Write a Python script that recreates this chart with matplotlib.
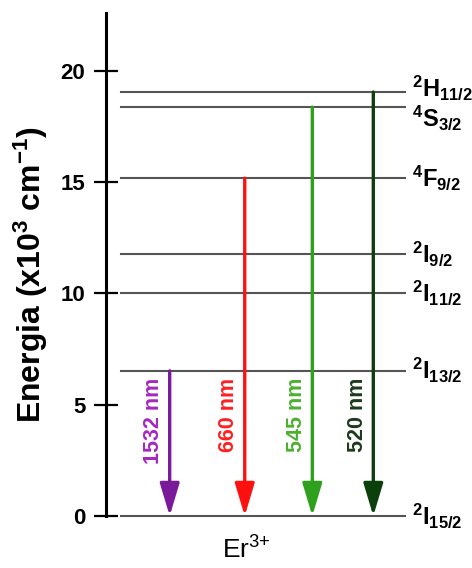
import numpy as np
import matplotlib
matplotlib.use('Agg')
import matplotlib.pyplot as plt

plt.rcParams['font.family'] = ['Liberation Sans', 'DejaVu Sans']
plt.rcParams['mathtext.fontset'] = 'custom'
plt.rcParams['mathtext.rm'] = 'Liberation Sans'
plt.rcParams['mathtext.bf'] = 'Liberation Sans:bold'
plt.rcParams['mathtext.default'] = 'regular'

# energy levels of Er3+ (x10^3 cm^-1)
level_names = [r'$\mathbf{^{2}I_{15/2}}$', r'$\mathbf{^{2}I_{13/2}}$', r'$\mathbf{^{2}I_{11/2}}$',
               r'$\mathbf{^{2}I_{9/2}}$', r'$\mathbf{^{4}F_{9/2}}$', r'$\mathbf{^{4}S_{3/2}}$',
               r'$\mathbf{^{2}H_{11/2}}$']
level_energy = [0.0, 6.52, 10.0, 11.76, 15.18, 18.37, 19.05]
label_shift = [0.0, 0.0, 0.0, 0.0, 0.0, -0.5, 0.15]

# emissions: wavelength label, starting level energy, x position
trans_labels = ['1532 nm', '660 nm', '545 nm', '520 nm']
trans_start = [6.52, 15.18, 18.37, 19.05]
trans_x = [0.213, 0.464, 0.69, 0.894]
arrow_colors = ['#7a1a9a', '#ff1010', '#2ea01e', '#0b3f0b']
text_colors = ['#a528c0', '#ff2020', '#4cb030', '#1c3a1c']

fig = plt.figure(figsize=(4.72, 5.68), dpi=100)
ax = fig.add_axes([106 / 472, 1 - 516 / 568, 299 / 472, (516 - 13) / 568])
ax.set_xlim(0, 1)
ax.set_ylim(0, 22.6)

for e in level_energy:
    ax.plot([0.05, 1.0], [e, e], color='#555555', lw=1.5, clip_on=False, zorder=1)

for name, e, s in zip(level_names, level_energy, label_shift):
    ax.text(1.023, e + s, name, fontsize=17, ha='left', va='center', clip_on=False)

for lab, e, x, ac, tc in zip(trans_labels, trans_start, trans_x, arrow_colors, text_colors):
    ax.annotate('', xy=(x, 0), xytext=(x, e),
                arrowprops=dict(arrowstyle='-|>,head_length=20,head_width=6.0',
                                mutation_scale=1, lw=2.4, color=ac,
                                shrinkA=0, shrinkB=0),
                zorder=3, annotation_clip=False)
    ax.text(x - 0.054, 6.2, lab, color=tc, fontsize=15.5, fontweight='bold',
            rotation=90, ha='center', va='top')

ax.text(0.468, -1.55, r'Er$^{3{+}}$', fontsize=19, ha='center', va='center')

for sp in ['top', 'right', 'bottom']:
    ax.spines[sp].set_visible(False)
ax.spines['left'].set_linewidth(2.2)
ax.set_xticks([])
ax.set_yticks([0, 5, 10, 15, 20])
ax.tick_params(axis='y', direction='inout', length=16.6, width=1.6, pad=6.5,
               labelsize=16)
for t in ax.get_yticklabels():
    t.set_fontweight('bold')

fig.text(31 / 472, 1 - 275 / 568, r'Energia (x10$^3$ cm$^{-1}$)', rotation=90,
         fontsize=23, fontweight='bold', ha='center', va='center')

fig.savefig('out.png', dpi=100)
